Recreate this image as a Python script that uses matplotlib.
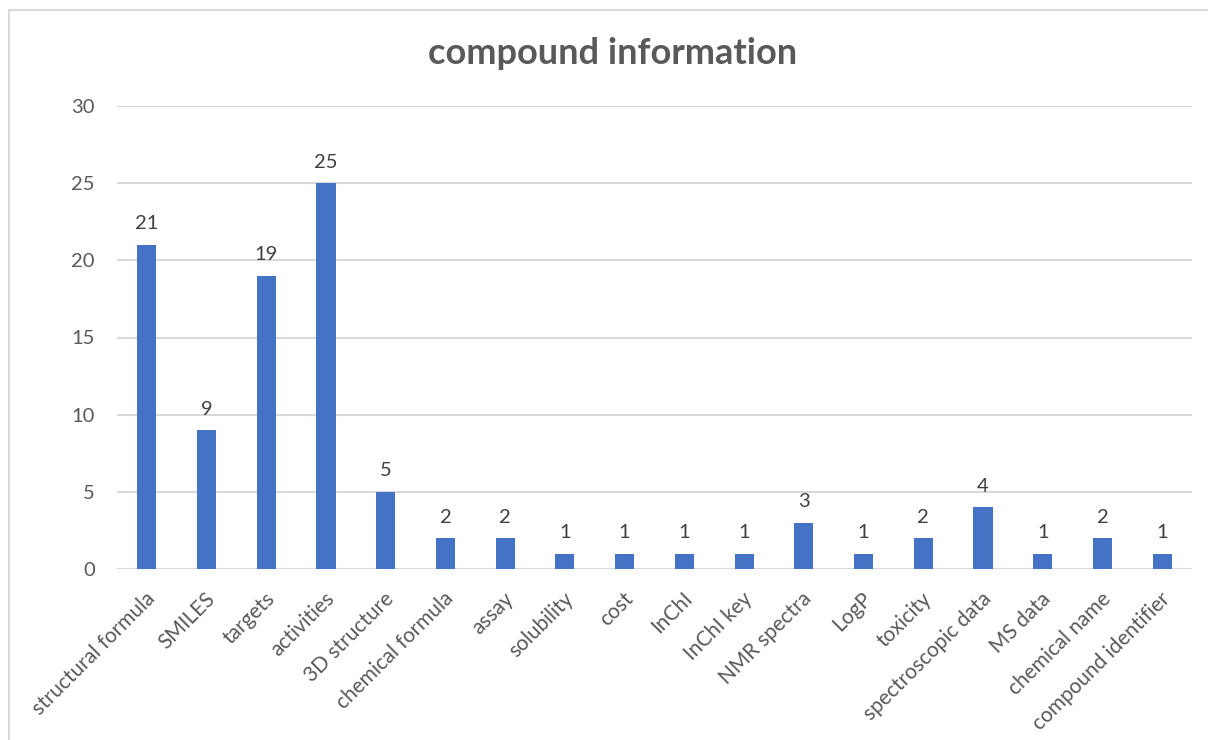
import matplotlib
matplotlib.use("Agg")
import matplotlib.pyplot as plt
from matplotlib.lines import Line2D
from matplotlib.transforms import ScaledTranslation

categories = ["structural formula", "SMILES", "targets", "activities", "3D structure",
              "chemical formula", "assay", "solubility", "cost", "InChI", "InChI key",
              "NMR spectra", "LogP", "toxicity", "spectroscopic data", "MS data",
              "chemical name", "compound identifier"]
values = [21, 9, 19, 25, 5, 2, 2, 1, 1, 1, 1, 3, 1, 2, 4, 1, 2, 1]
yticks = [0, 5, 10, 15, 20, 25, 30]
title = "compound information"

plt.rcParams['font.family'] = ['Lato', 'DejaVu Sans']
text_color = "#595959"
grid_color = "#d9d9d9"
bar_color = "#4472C4"

W, H = 1208, 740
fig = plt.figure(figsize=(W / 100, H / 100), dpi=100)
ax = fig.add_axes([117 / W, 1 - 569 / H, (1192 - 117) / W, (569 - 106) / H])

x = list(range(len(categories)))
bars = ax.bar(x, values, width=0.32, color=bar_color, zorder=3)
for xi, v in zip(x, values):
    ax.annotate(str(v), (xi, v), xytext=(0, 9), textcoords="offset points",
                ha="center", va="bottom", fontsize=14.5, color="#404040")

ax.set_xlim(-0.5, len(categories) - 0.5)
ax.set_ylim(0, 30)
ax.set_yticks(yticks)
ax.yaxis.grid(True, color=grid_color, linewidth=1.5, zorder=0)
ax.set_axisbelow(True)
for s in ax.spines.values():
    s.set_visible(False)
ax.tick_params(axis="both", length=0, labelsize=14.5, colors=text_color)
ax.tick_params(axis="y", pad=16)
ax.set_xticks(x)
ax.set_xticklabels(categories, rotation=45, ha="right", rotation_mode="anchor",
                   fontsize=15)
ax.tick_params(axis="x", pad=14)
offset = ScaledTranslation(-2 / 100, 0, fig.dpi_scale_trans)
for lbl in ax.get_xticklabels():
    lbl.set_transform(lbl.get_transform() + offset)

fig.text(613 / W, 1 - 53 / H, title, ha="center", va="center", fontsize=26,
         fontweight="bold", color=text_color)

# chart frame
fig.add_artist(Line2D([9 / W, 1.0], [1 - 10 / H, 1 - 10 / H], color=grid_color,
                      linewidth=1.5, transform=fig.transFigure))
fig.add_artist(Line2D([9 / W, 9 / W], [0, 1 - 10 / H], color=grid_color,
                      linewidth=1.5, transform=fig.transFigure))

fig.savefig("out.png", dpi=100)
